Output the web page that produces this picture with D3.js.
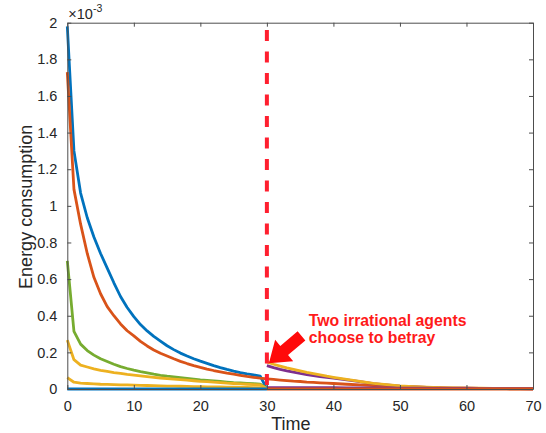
<!DOCTYPE html>
<html><head><meta charset="utf-8">
<script src="https://cdn.jsdelivr.net/npm/d3@7"></script>
<style>body{margin:0;background:#fff}svg{display:block}text{font-family:"Liberation Sans",Arial,sans-serif}</style>
</head><body>
<svg id="c" width="546" height="433"></svg>
<script>
// ---- data (values in units of 1e-3) ----
const xTicks = [0,10,20,30,40,50,60,70];
const yTicks = [0,0.2,0.4,0.6,0.8,1,1.2,1.4,1.6,1.8,2];
const yTickLabels = ["0","0.2","0.4","0.6","0.8","1","1.2","1.4","1.6","1.8","2"];
const betrayTime = 30;

const time1 = [0,1,2,3,4,5,6,7,8,9,10,11,12,13,14,15,16,17,18,19,20,21,22,23,24,25,26,27,28,29,30];
const blueA  = [1.98,1.30,1.07,0.935,0.83,0.74,0.66,0.58,0.505,0.445,0.395,0.352,0.317,0.287,0.261,0.236,0.215,0.196,0.18,0.165,0.152,0.14,0.128,0.117,0.107,0.098,0.09,0.083,0.077,0.07,0.0];
const orangeA= [1.73,1.09,0.90,0.74,0.61,0.52,0.45,0.40,0.355,0.318,0.29,0.26,0.235,0.213,0.195,0.18,0.165,0.151,0.139,0.128,0.118,0.109,0.101,0.094,0.087,0.081,0.075,0.069,0.064,0.059,0.055];
const greenA = [0.70,0.315,0.245,0.21,0.185,0.165,0.15,0.135,0.122,0.112,0.103,0.095,0.088,0.081,0.075,0.07,0.066,0.062,0.058,0.054,0.05,0.047,0.044,0.041,0.038,0.035,0.033,0.031,0.029,0.027,0.003];
const yellowA= [0.267,0.16,0.13,0.12,0.11,0.102,0.096,0.09,0.085,0.08,0.076,0.072,0.068,0.064,0.06,0.057,0.054,0.051,0.048,0.045,0.042,0.04,0.037,0.035,0.032,0.03,0.028,0.026,0.024,0.022,0.003];
const yellowB= [0.062,0.037,0.032,0.030,0.028,0.026,0.025,0.024,0.023,0.022,0.021,0.020,0.019,0.018,0.017,0.016,0.016,0.015,0.014,0.013,0.013,0.012,0.011,0.011,0.010,0.010,0.009,0.009,0.008,0.008,0.002];
const timeFlat1 = [0,30];
const blueB  = [0,0];

const time2 = [30,31,32,33,34,35,36,37,38,39,40,42,44,46,48,50,52,54,56,58,60,62,64,66,68,70];
const orangeB= [0.055,0.052,0.049,0.046,0.043,0.041,0.038,0.036,0.034,0.032,0.03,0.026,0.023,0.019,0.016,0.013,0.011,0.009,0.007,0.005,0.004,0.003,0.002,0.0015,0.001,0.001];
const purpleA= [0.128,0.117,0.107,0.099,0.092,0.085,0.079,0.073,0.068,0.063,0.059,0.05,0.04,0.029,0.022,0.016,0.012,0.009,0.006,0.005,0.004,0.003,0.0025,0.002,0.0015,0.0015];
const yellowC= [0.148,0.135,0.125,0.115,0.107,0.099,0.091,0.084,0.077,0.07,0.064,0.053,0.041,0.031,0.024,0.017,0.013,0.010,0.007,0.006,0.005,0.004,0.003,0.0025,0.002,0.002];
const purpleB= [0.007,0.007,0.007,0.007,0.007,0.007,0.007,0.007,0.007,0.007,0.007,0.006,0.006,0.006,0.005,0.005,0.004,0.004,0.003,0.003,0.003,0.002,0.002,0.002,0.002,0.002];
const timeFlat2 = [30,70];
const orangeC= [0,0];

const C = {blue:"#0072BD", orange:"#D95319", yellow:"#EDB120", purple:"#7E2F8E", green:"#77AC30"};
const series = [
  {t:time1, v:blueA, c:C.blue},
  {t:time1, v:orangeA, c:C.orange},
  {t:time1, v:greenA, c:C.green},
  {t:time1, v:yellowA, c:C.yellow},
  {t:time1, v:yellowB, c:C.yellow},
  {t:timeFlat1, v:blueB, c:C.blue},
  {t:time2, v:orangeB, c:C.orange},
  {t:time2, v:purpleA, c:C.purple},
  {t:time2, v:yellowC, c:C.yellow},
  {t:time2, v:purpleB, c:C.purple},
  {t:timeFlat2, v:orangeC, c:C.orange}
];

// ---- layout ----
const pL = 67.3, pR = 533, pT = 22.7, pB = 389;
const xs = d3.scaleLinear().domain([0,70]).range([pL,pR]);
const ys = d3.scaleLinear().domain([0,2]).range([pB,pT]);
const svg = d3.select("#c");
const axCol = "#262626", boxCol = "#4d4d4d";

// lines
const lineGen = d3.line().x(d=>xs(d[0])).y(d=>ys(d[1]));
series.forEach(s=>{
  svg.append("path").attr("d", lineGen(s.t.map((t,i)=>[t,s.v[i]])))
    .attr("fill","none").attr("stroke",s.c).attr("stroke-width",2.8).attr("stroke-linejoin","round");
});

// dashed red line
svg.append("line").attr("x1",xs(betrayTime)).attr("x2",xs(betrayTime))
  .attr("y1",ys(1.96)).attr("y2",pB).attr("stroke","#FF1F2F").attr("stroke-width",4)
  .attr("stroke-dasharray","11,10.5");

// axes (box with inward ticks)
const tl = 4;
const axB = d3.axisBottom(xs).tickValues(xTicks).tickSizeInner(-tl).tickSizeOuter(0).tickPadding(12);
const axT = d3.axisTop(xs).tickValues(xTicks).tickSizeInner(-tl).tickSizeOuter(0).tickFormat("");
const axL = d3.axisLeft(ys).tickValues(yTicks).tickSizeInner(-tl).tickSizeOuter(0).tickPadding(10).tickFormat((d,i)=>yTickLabels[i]);
const axR = d3.axisRight(ys).tickValues(yTicks).tickSizeInner(-tl).tickSizeOuter(0).tickFormat("");
function styleAx(g){
  g.select(".domain").attr("stroke",boxCol).attr("stroke-width",1);
  g.selectAll(".tick line").attr("stroke",boxCol);
  g.selectAll(".tick text").attr("fill",axCol).style("font-size","14.5px").style("font-family","'Liberation Sans',Arial,sans-serif");
}
svg.append("g").attr("transform",`translate(0,${pB})`).call(axB).call(styleAx);
svg.append("g").attr("transform",`translate(0,${pT})`).call(axT).call(styleAx);
svg.append("g").attr("transform",`translate(${pL},0)`).call(axL).call(styleAx);
svg.append("g").attr("transform",`translate(${pR},0)`).call(axR).call(styleAx);

// exponent
const ex = svg.append("text").attr("x",pL+1).attr("y",19).attr("fill",axCol).style("font-size","14.5px");
ex.append("tspan").text("×10");
ex.append("tspan").attr("dy",-7).style("font-size","10.5px").text("-3");

// axis labels
svg.append("text").attr("x",xs(33.6)).attr("y",430).attr("text-anchor","middle")
  .attr("fill",axCol).style("font-size","18px").text("Time");
svg.append("text").attr("transform",`translate(32,${(pT+pB)/2 + 1}) rotate(-90)`).attr("text-anchor","middle")
  .attr("fill",axCol).style("font-size","18px").text("Energy consumption");

// annotation arrow (data coords)
const tip = [xs(30.3), ys(0.14)], tail = [xs(35.2), ys(0.29)];
const ang = Math.atan2(tip[1]-tail[1], tip[0]-tail[0]);
const len = Math.hypot(tip[0]-tail[0], tip[1]-tail[1]);
const hl = 20, hw = 14, sw = 6;
const pts = [[0,0],[-hl,-hw],[-hl,-sw],[-len,-sw],[-len,sw],[-hl,sw],[-hl,hw]];
const rot = p=>[tip[0]+p[0]*Math.cos(ang)-p[1]*Math.sin(ang), tip[1]+p[0]*Math.sin(ang)+p[1]*Math.cos(ang)];
svg.append("path").attr("d","M"+pts.map(rot).map(p=>p.join(",")).join("L")+"Z").attr("fill","#FF0A0A");

const ann = svg.append("text").attr("fill","#FF1A1A").style("font-size","15.8px").style("font-weight","bold");
ann.append("tspan").attr("x",xs(36.3)).attr("y",ys(0.343)).text("Two irrational agents");
ann.append("tspan").attr("x",xs(36.3)).attr("y",ys(0.251)).text("choose to betray");
</script>
</body></html>
